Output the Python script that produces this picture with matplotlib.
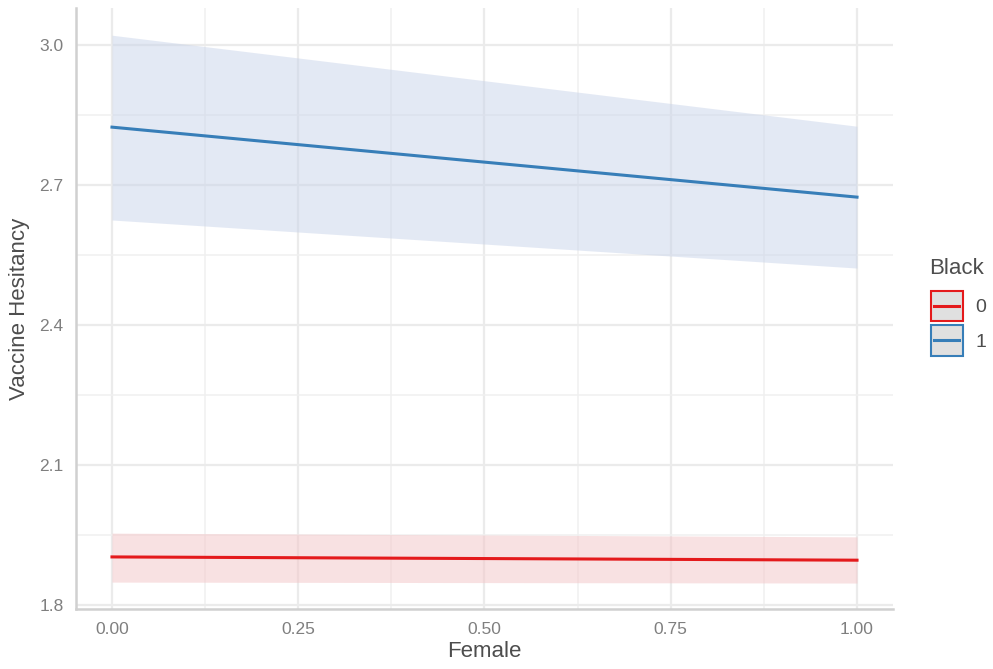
import matplotlib
matplotlib.use("Agg")
import matplotlib.pyplot as plt
from matplotlib.patches import Rectangle
from matplotlib.lines import Line2D
from matplotlib.legend_handler import HandlerBase
import numpy as np

plt.rcParams['font.family'] = ['Liberation Sans', 'DejaVu Sans']

female = [0.0, 1.0]
groups = ["0", "1"]
fit = {"0": [1.903, 1.896], "1": [2.824, 2.674]}
lower = {"0": [1.849, 1.847], "1": [2.625, 2.522]}
upper = {"0": [1.954, 1.946], "1": [3.021, 2.826]}
line_colors = {"0": "#E41A1C", "1": "#377EB8"}
fill_colors = {"0": "#F3C4C6", "1": "#C9D4EA"}

xticks = [0.0, 0.25, 0.5, 0.75, 1.0]
xticklabels = ["0.00", "0.25", "0.50", "0.75", "1.00"]
yticks = [1.8, 2.1, 2.4, 2.7, 3.0]
yticklabels = ["1.8", "2.1", "2.4", "2.7", "3.0"]

fig = plt.figure(figsize=(9.93, 6.69), dpi=100)
ax = fig.add_axes([76/993, 1-609/669, (893-76)/993, (609-8)/669])

lines = []
for g in groups:
    ax.fill_between(female, lower[g], upper[g], color=fill_colors[g], alpha=0.5, linewidth=0, zorder=2)
for g in groups:
    ln, = ax.plot(female, fit[g], color=line_colors[g], linewidth=2.2, zorder=3)
    lines.append(ln)

ax.set_xlim(-0.0483, 1.0483)
ax.set_ylim(1.7914, 3.0793)
ax.set_xticks(xticks)
ax.set_xticklabels(xticklabels)
ax.set_yticks(yticks)
ax.set_yticklabels(yticklabels)
ax.set_xticks([0.125, 0.375, 0.625, 0.875], minor=True)
ax.set_yticks([1.95, 2.25, 2.55, 2.85], minor=True)
ax.grid(True, which='major', color='#EBEBEB', linewidth=1.6, zorder=0)
ax.grid(True, which='minor', color='#F0F0F0', linewidth=1.1, zorder=0)
ax.set_axisbelow(True)
ax.tick_params(which='both', length=0, colors='#7F7F7F', labelsize=12.5, pad=9)
for s in ['top', 'right']:
    ax.spines[s].set_visible(False)
for s in ['left', 'bottom']:
    ax.spines[s].set_color('#D0D0D0')
    ax.spines[s].set_linewidth(1.8)

ax.set_xlabel("Female", fontsize=16, color='#4D4D4D', labelpad=3)
ax.set_ylabel("Vaccine Hesitancy", fontsize=16, color='#4D4D4D', labelpad=7)


class KeyHandler(HandlerBase):
    def create_artists(self, legend, orig_handle, xdescent, ydescent,
                       width, height, fontsize, trans):
        c = orig_handle.get_color()
        rect = Rectangle((-xdescent, -ydescent), width, height,
                         facecolor='#E0E0E0', edgecolor=c, linewidth=1.5,
                         transform=trans)
        ymid = -ydescent + height / 2
        pad = width * 0.12
        ln = Line2D([-xdescent + pad, -xdescent + width - pad], [ymid, ymid],
                    color=c, linewidth=2.2, transform=trans)
        return [rect, ln]


fig.text(929/993, 1-268/669, "Black", fontsize=16, color='#4D4D4D',
         ha='left', va='center')
leg = fig.legend(lines, groups, handler_map={Line2D: KeyHandler()},
                 loc='upper left', bbox_to_anchor=(915/993, 1-275/669),
                 frameon=False, fontsize=14,
                 handlelength=1.65, handleheight=2.05, labelspacing=0.2,
                 handletextpad=0.65, borderpad=0.3)
for t in leg.get_texts():
    t.set_color('#4D4D4D')

fig.savefig("out.png", dpi=100, facecolor='white')
